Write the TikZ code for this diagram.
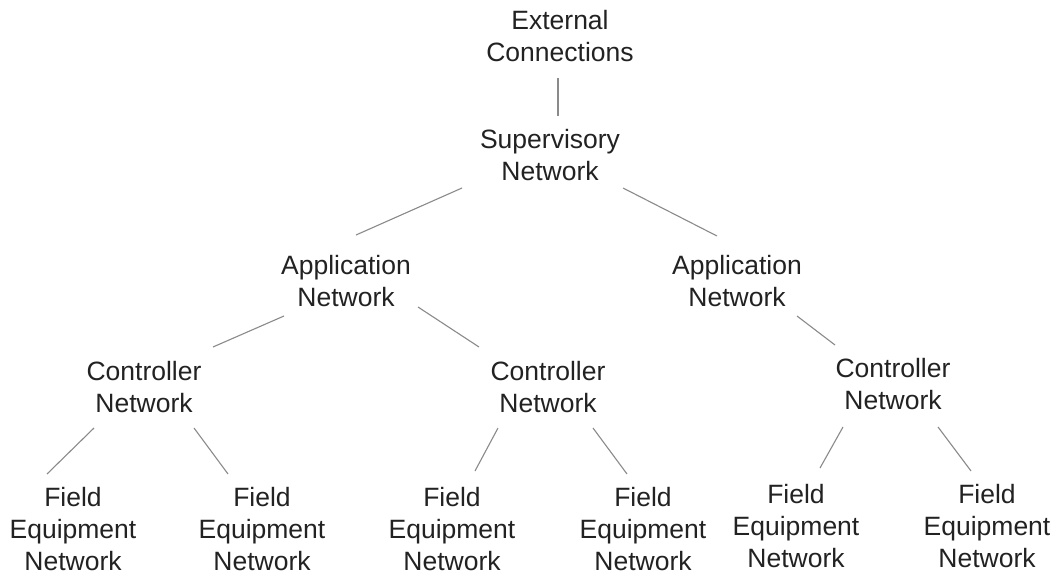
\documentclass[tikz,border=0pt]{standalone}
\usepackage{fontspec}
\setmainfont{Liberation Sans}
\definecolor{txt}{HTML}{222222}
\definecolor{ln}{HTML}{8A8A8A}
\begin{document}
\begin{tikzpicture}[x=1pt,y=-1pt,
  lbl/.style={align=center,inner sep=0pt,anchor=base,text=txt,
    font=\fontsize{26.5}{32}\selectfont},
  conn/.style={draw=ln,line width=1.1pt}]
\useasboundingbox[fill=white] (0,0) rectangle (1054,575);
\node[lbl] (ext)  at (560,62)  {External\\Connections};
\node[lbl] (sup)  at (550,180) {Supervisory\\Network};
\node[lbl] (appL) at (346,306) {Application\\Network};
\node[lbl] (appR) at (737,306) {Application\\Network};
\node[lbl] (ctlA) at (144,412) {Controller\\Network};
\node[lbl] (ctlB) at (548,412) {Controller\\Network};
\node[lbl] (ctlC) at (893,409) {Controller\\Network};
\node[lbl] (f1) at (73,570)  {Field\\Equipment\\Network};
\node[lbl] (f2) at (262,570) {Field\\Equipment\\Network};
\node[lbl] (f3) at (452,570) {Field\\Equipment\\Network};
\node[lbl] (f4) at (643,570) {Field\\Equipment\\Network};
\node[lbl] (f5) at (796,567) {Field\\Equipment\\Network};
\node[lbl] (f6) at (987,567) {Field\\Equipment\\Network};
\draw[conn] ([shift={(-2,16)}]ext.base) -- ([shift={(8,-64)}]sup.base);
\draw[conn] ([shift={(-88,8)}]sup.base) -- ([shift={(10,-71)}]appL.base);
\draw[conn] ([shift={(73,8)}]sup.base) -- ([shift={(-20,-70)}]appR.base);
\draw[conn] ([shift={(-62,10)}]appL.base) -- ([shift={(69,-65)}]ctlA.base);
\draw[conn] ([shift={(72,1)}]appL.base) -- ([shift={(-69,-65)}]ctlB.base);
\draw[conn] ([shift={(60,10)}]appR.base) -- ([shift={(-58,-64)}]ctlC.base);
\draw[conn] ([shift={(-50,16)}]ctlA.base) -- ([shift={(-26,-96)}]f1.base);
\draw[conn] ([shift={(50,16)}]ctlA.base) -- ([shift={(-34,-96)}]f2.base);
\draw[conn] ([shift={(-50,16)}]ctlB.base) -- ([shift={(23,-99)}]f3.base);
\draw[conn] ([shift={(45,16)}]ctlB.base) -- ([shift={(-16,-96)}]f4.base);
\draw[conn] ([shift={(-50,18)}]ctlC.base) -- ([shift={(24,-99)}]f5.base);
\draw[conn] ([shift={(45,18)}]ctlC.base) -- ([shift={(-16,-96)}]f6.base);
\end{tikzpicture}
\end{document}
